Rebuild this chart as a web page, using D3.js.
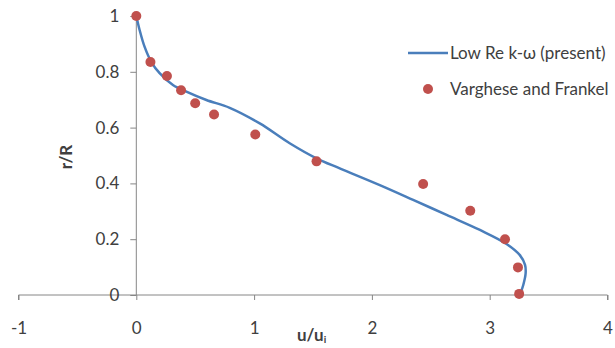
<!DOCTYPE html>
<html>
<head>
<meta charset="utf-8">
<script src="https://cdn.jsdelivr.net/npm/d3@7"></script>
<style>
body { margin: 0; background: #fff; }
text { font-family: Lato, "Open Sans", sans-serif; fill: #404040; }
</style>
</head>
<body>
<div id="chart"></div>
<script>
// model curve (u/ui, r/R)
var modelU = [0, 0.028, 0.07, 0.127, 0.198, 0.311, 0.425, 0.595, 0.793, 1.048, 1.302, 1.529, 1.727, 2.067, 2.35, 2.634, 2.917, 3.143, 3.256, 3.30, 3.305, 3.285, 3.26];
var modelR = [1, 0.95, 0.89, 0.836, 0.795, 0.753, 0.729, 0.699, 0.671, 0.615, 0.544, 0.490, 0.454, 0.394, 0.341, 0.287, 0.233, 0.183, 0.143, 0.108, 0.078, 0.036, 0.005];

// experiment
var expU = [0, 0.12, 0.26, 0.38, 0.50, 0.66, 1.01, 1.53, 2.435, 2.835, 3.13, 3.24, 3.25];
var expR = [1.0, 0.835, 0.785, 0.734, 0.687, 0.647, 0.575, 0.479, 0.398, 0.302, 0.20, 0.099, 0.004];

var xTicks = [-1, 0, 1, 2, 3, 4];
var yTicks = [0, 0.2, 0.4, 0.6, 0.8, 1];
var seriesNames = ["Low Re k-\u03c9 (present)", "Varghese and Frankel"];

var width = 615, height = 348;
var svg = d3.select("#chart").append("svg")
  .attr("width", width)
  .attr("height", height);

var x = d3.scaleLinear().domain([-1, 4]).range([18.5, 607.5]);
var y = d3.scaleLinear().domain([0, 1]).range([295, 16]);

// x axis through y = 0
var xAxis = svg.append("g")
  .attr("transform", "translate(0," + y(0) + ")")
  .call(d3.axisBottom(x).tickValues(xTicks).tickSize(5).tickPadding(22).tickFormat(function(d) { return String(d); }));
xAxis.select(".domain").attr("stroke", "#868686").attr("d", "M" + x(-1) + ",5V0H" + x(4) + "V5");
xAxis.selectAll(".tick line").attr("stroke", "#868686");
xAxis.selectAll(".tick text").style("font-size", "17px").attr("fill", "#404040");

// y axis through x = 0
var yAxis = svg.append("g")
  .attr("transform", "translate(" + x(0) + ",0)")
  .call(d3.axisLeft(y).tickValues(yTicks).tickSize(6).tickPadding(11).tickFormat(function(d) { return String(d); }));
yAxis.select(".domain").attr("stroke", "#868686").attr("d", "M0," + y(0) + "V" + y(1));
yAxis.selectAll(".tick line").attr("stroke", "#868686");
yAxis.selectAll(".tick text").style("font-size", "17px").attr("fill", "#404040");

// model line
var lineData = modelU.map(function(u, i) { return [u, modelR[i]]; });
var line = d3.line()
  .x(function(d) { return x(d[0]); })
  .y(function(d) { return y(d[1]); })
  .curve(d3.curveCatmullRom.alpha(0.5));
svg.append("path")
  .datum(lineData)
  .attr("fill", "none")
  .attr("stroke", "#4A7EBB")
  .attr("stroke-width", 2.5)
  .attr("d", line);

// experimental points
svg.selectAll("circle.exp")
  .data(expU)
  .enter().append("circle")
  .attr("class", "exp")
  .attr("cx", function(d) { return x(d); })
  .attr("cy", function(d, i) { return y(expR[i]); })
  .attr("r", 5)
  .attr("fill", "#C0504D");

// axis titles
svg.append("text")
  .attr("x", 297)
  .attr("y", 341)
  .style("font-size", "17px")
  .style("font-weight", "bold")
  .html("u/u<tspan style='font-size:10px' dy='2'>i</tspan>");

svg.append("text")
  .attr("transform", "translate(72,157) rotate(-90)")
  .attr("text-anchor", "middle")
  .style("font-size", "17px")
  .style("font-weight", "bold")
  .text("r/R");

// legend
var legend = svg.append("g");
legend.append("line")
  .attr("x1", 408).attr("x2", 448)
  .attr("y1", 53).attr("y2", 53)
  .attr("stroke", "#4A7EBB")
  .attr("stroke-width", 2.5);
legend.append("text")
  .attr("x", 450).attr("y", 59)
  .style("font-size", "17px")
  .text(seriesNames[0]);
legend.append("circle")
  .attr("cx", 428).attr("cy", 89)
  .attr("r", 5)
  .attr("fill", "#C0504D");
legend.append("text")
  .attr("x", 450).attr("y", 95)
  .style("font-size", "17px")
  .text(seriesNames[1]);
</script>
</body>
</html>
